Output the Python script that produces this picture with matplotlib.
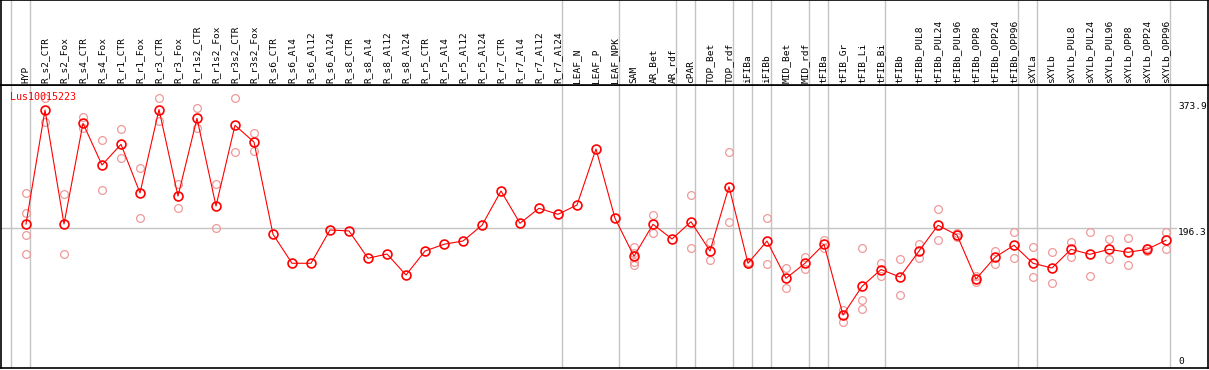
import matplotlib
matplotlib.use("Agg")
import matplotlib.pyplot as plt

# column labels (one per sample)
labels = ["HYP", "R_s2_CTR", "R_s2_Fox", "R_s4_CTR", "R_s4_Fox", "R_r1_CTR", "R_r1_Fox",
          "R_r3_CTR", "R_r3_Fox", "R_r1s2_CTR", "R_r1s2_Fox", "R_r3s2_CTR", "R_r3s2_Fox",
          "R_s6_CTR", "R_s6_Al4", "R_s6_Al12", "R_s6_Al24", "R_s8_CTR", "R_s8_Al4",
          "R_s8_Al12", "R_s8_Al24", "R_r5_CTR", "R_r5_Al4", "R_r5_Al12", "R_r5_Al24",
          "R_r7_CTR", "R_r7_Al4", "R_r7_Al12", "R_r7_Al24", "LEAF_N", "LEAF_P", "LEAF_NPK",
          "SAM", "AR_Bet", "AR_rdf", "cPAR", "TOP_Bet", "TOP_rdf", "iFIBa", "iFIBb",
          "MID_Bet", "MID_rdf", "tFIBa", "tFIB_Gr", "tFIB_Li", "tFIB_Bi", "tFIBb",
          "tFIBb_PUL8", "tFIBb_PUL24", "tFIBb_PUL96", "tFIBb_OPP8", "tFIBb_OPP24",
          "tFIBb_OPP96", "sXYLa", "sXYLb", "sXYLb_PUL8", "sXYLb_PUL24", "sXYLb_PUL96",
          "sXYLb_OPP8", "sXYLb_OPP24", "sXYLb_OPP96"]

# mean expression per column
means = [202.4, 362.6, 202.4, 343.9, 285.3, 314.4, 246.0, 363.3, 241.7, 350.9, 227.7, 341.1, 317.6,
         187.9, 147.2, 147.2, 194.0, 192.6, 154.2, 160.2, 130.7, 164.4, 173.9, 178.5, 200.6,
         248.8, 203.4, 224.5, 216.0, 229.1, 307.8, 210.4,
         157.0, 202.0, 181.3, 205.6, 164.4, 254.8, 147.2, 178.5,
         126.1, 147.2, 173.9, 74.5, 114.8, 138.4, 127.9,
         164.4, 200.6, 186.9, 125.1, 155.6, 172.5,
         147.2, 140.5, 166.8, 159.8, 166.8, 162.6, 166.8, 179.5]

# individual replicates (pale circles)
reps = [[245.5, 217.8, 186.5, 159.8], [379.1, 346.2], [244.1, 159.8], [352.4, 336.9],
        [320.5, 250.2], [335.5, 294.7], [280.7, 210.4], [379.1, 347.6], [258.6, 224.5],
        [365.0, 336.9], [258.6, 196.3], [379.1, 303.2], [329.9, 305.4],
        [], [], [], [], [], [], [], [], [], [], [], [], [], [], [], [], [], [], [],
        [170.5, 162.0, 149.0, 145.0], [215.0, 189.3], [], [243.1, 168.2], [177.5, 151.8],
        [303.2, 205.6], [148.5, 146.0], [210.4, 145.7],
        [140.1, 112.9], [155.6, 138.7], [179.9, 168.0], [81.5, 65.1], [168.2, 95.6, 82.5],
        [147.6, 130.0], [152.8, 102.6],
        [173.9, 154.2], [223.1, 179.9], [189.7, 184.8], [129.5, 120.7], [164.4, 145.7],
        [190.7, 154.2],
        [169.6, 127.5], [162.6, 119.0], [176.7, 156.4], [190.7, 128.9], [180.9, 152.8],
        [182.3, 144.3], [168.7, 165.1], [191.6, 167.7]]

# last column index of each group (grey separators)
group_ends = [-1, 0, 28, 31, 34, 35, 37, 38, 39, 41, 42, 45, 52, 53, 60]
ref_values = [373.9, 196.3]
gene = "Lus10015223"

W, H = 1209, 370
fig = plt.figure(figsize=(W / 100, H / 100), dpi=100)
font = "DejaVu Sans Mono"

# pixel layout
x0, dx = 26, 19
left, right, head, bottom = 1, 1208, 85, 368
kval = 0.7115  # px per unit

ax = fig.add_axes([left / W, (H - bottom) / H, (right - left) / W, (bottom - head) / H])
axh = fig.add_axes([left / W, (H - head) / H, (right - left) / W, head / H - 0.001], sharex=ax)

xlim = ((left - x0) / dx, (right - x0) / dx)
ax.set_xlim(*xlim)
ax.set_ylim(0, (bottom - head) / kval)
axh.set_ylim(0, head)

for a in (ax, axh):
    a.set_xticks([])
    a.set_yticks([])
    for s in a.spines.values():
        s.set_color("black")
        s.set_linewidth(1.2)
    for e in group_ends:
        a.axvline(e + 0.22, color="#c4c4c4", lw=1.0, zorder=0)

xs = list(range(len(labels)))
for i, lab in enumerate(labels):
    axh.text(i, 2, lab, rotation=90, ha="center", va="bottom", fontsize=6.8,
             family=font, color="black")

# reference line and right side labels
lab_x = (1178 - x0) / dx
ax.axhline(ref_values[1], xmin=0, xmax=(1176 - left) / (right - left), color="#c4c4c4",
           lw=1.0, zorder=0)
for v in ref_values:
    ax.text(lab_x, v, f"{v}", ha="left", va="top", fontsize=6.8, family=font, color="black")
ax.text(lab_x, 3, "0", ha="left", va="bottom", fontsize=6.8, family=font, color="black")

# replicates
for i, r in enumerate(reps):
    if r:
        ax.plot([i] * len(r), r, linestyle="none", marker="o", ms=5.6, mfc="none",
                mec="#ee9a9a", mew=0.9, zorder=2)

# means
ax.plot(xs, means, color="red", lw=0.8, marker="o", ms=6.4, mfc="none", mec="red",
        mew=1.2, zorder=3)

ax.text((10 - x0) / dx, (bottom - 97) / kval, gene, ha="left", va="center",
        fontsize=7.2, family=font, color="red", zorder=4)

fig.savefig("out.png", dpi=100)
